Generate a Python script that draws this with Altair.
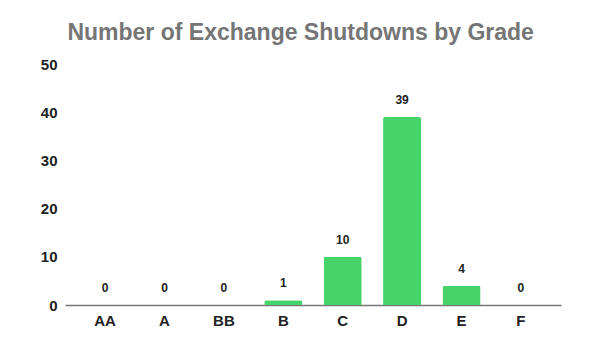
import altair as alt
import pandas as pd

grades = ["AA", "A", "BB", "B", "C", "D", "E", "F"]
counts = [0, 0, 0, 1, 10, 39, 4, 0]

df = pd.DataFrame({"grade": grades, "count": counts})

x = alt.X("grade:N", sort=grades, title=None,
          scale=alt.Scale(paddingInner=0.36, paddingOuter=0.355),
          axis=alt.Axis(labelAngle=0, labelFontWeight="bold", labelFontSize=15,
                        labelColor="#222222", labelFont="Liberation Sans",
                        ticks=False, domainColor="#777777", domainWidth=1.5,
                        labelPadding=8))
y = alt.Y("count:Q", title=None,
          scale=alt.Scale(domain=[0, 50]),
          axis=alt.Axis(values=[0, 10, 20, 30, 40, 50], grid=False, domain=False,
                        ticks=False, labelFontWeight="bold", labelFontSize=15,
                        labelColor="#222222", labelFont="Liberation Sans",
                        labelPadding=8))

bars = alt.Chart(df).mark_bar(color="#46d369", cornerRadiusTopLeft=2,
                              cornerRadiusTopRight=2).encode(x=x, y=y)
labels = alt.Chart(df).mark_text(baseline="bottom", dy=-10, fontSize=12,
                                 fontWeight="bold", font="Liberation Sans",
                                 color="#222222").encode(
    x=alt.X("grade:N", sort=grades), y="count:Q", text="count:Q")

chart = (bars + labels).properties(
    width=496, height=241,
    title=alt.TitleParams("Number of Exchange Shutdowns by Grade", anchor="middle",
                          frame="bounds", fontSize=23, fontWeight="bold",
                          font="Liberation Sans", color="#757575", offset=12),
    autosize=alt.AutoSizeParams(type="none"),
    padding={"left": 65, "top": 64, "right": 39, "bottom": 37},
).configure_view(stroke=None)

chart.save("out.html", embed_options={"renderer": "svg", "actions": False})
